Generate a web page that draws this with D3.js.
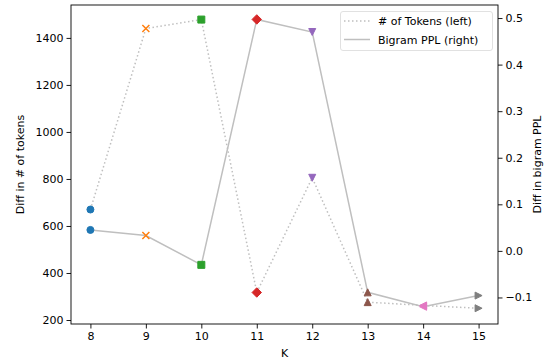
<!DOCTYPE html>
<html><head><meta charset="utf-8">
<script src="https://cdn.jsdelivr.net/npm/d3@7"></script>
<style>body{margin:0;background:#fff}svg{display:block}text{font-family:"DejaVu Sans",sans-serif;fill:#000}</style>
</head><body><svg id="c" width="556" height="363"></svg>
<script>
const kValues = [8, 9, 10, 11, 12, 13, 14, 15];
const tokenDiff = [670, 1440, 1478, 317, 805, 276, 262, 250];
const pplDiff = [0.045, 0.033, -0.030, 0.497, 0.470, -0.089, -0.120, -0.096];
const markerColors = ["#1f77b4","#ff7f0e","#2ca02c","#d62728","#9467bd","#8c564b","#e377c2","#7f7f7f"];
const markerTypes = ["o","x","s","D","v","^","<",">"];
const leftTicks = [200,400,600,800,1000,1200,1400];
const rightTicks = [-0.1,0.0,0.1,0.2,0.3,0.4,0.5];
const legendLabels = ["# of Tokens (left)", "Bigram PPL (right)"];

const svg = d3.select("#c");
const L = 71, R = 498, T = 5, B = 324;
const x = d3.scaleLinear().domain([7.65, 15.35]).range([L, R]);
const yL = d3.scaleLinear().domain([183, 1540]).range([B, T]);
const yR = d3.scaleLinear().domain([-0.157, 0.528]).range([B, T]);
const lineColor = "#bfbfbf";

function markerPath(type, s) {
  const h = s / 2;
  switch (type) {
    case "o": return d3.symbol(d3.symbolCircle, Math.PI * h * h)();
    case "s": return `M${-h},${-h}H${h}V${h}H${-h}Z`;
    case "D": { const d = h * 1.35; return `M0,${-d}L${d},0L0,${d}L${-d},0Z`; }
    case "v": return `M${-h},${-h}L${h},${-h}L0,${h}Z`;
    case "^": return `M${-h},${h}L${h},${h}L0,${-h}Z`;
    case "<": return `M${h},${-h}L${h},${h}L${-h},0Z`;
    case ">": return `M${-h},${-h}L${-h},${h}L${h},0Z`;
    case "x": return `M${-h},${-h}L${h},${h}M${-h},${h}L${h},${-h}`;
  }
}

const g = svg.append("g");
// lines
g.append("path").datum(kValues.map((k,i)=>[k,tokenDiff[i]]))
  .attr("fill","none").attr("stroke",lineColor).attr("stroke-width",1.5)
  .attr("stroke-dasharray","1.5,2.5")
  .attr("d", d3.line().x(d=>x(d[0])).y(d=>yL(d[1])));
g.append("path").datum(kValues.map((k,i)=>[k,pplDiff[i]]))
  .attr("fill","none").attr("stroke",lineColor).attr("stroke-width",1.5)
  .attr("d", d3.line().x(d=>x(d[0])).y(d=>yR(d[1])));

function drawMarkers(vals, sc) {
  kValues.forEach((k,i)=>{
    const t = markerTypes[i], c = markerColors[i];
    g.append("path").attr("d", markerPath(t, 7))
      .attr("transform", `translate(${x(k)},${sc(vals[i])})`)
      .attr("fill", t === "x" ? "none" : c)
      .attr("stroke", c).attr("stroke-width", t === "x" ? 1.5 : 1);
  });
}
drawMarkers(tokenDiff, yL);
drawMarkers(pplDiff, yR);

// axes
const fs = 11;
const ax = svg.append("g").attr("transform",`translate(0,${B})`)
  .call(d3.axisBottom(x).tickValues(kValues).tickFormat(d3.format("d")).tickSizeOuter(0).tickSize(4.5).tickPadding(4));
const al = svg.append("g").attr("transform",`translate(${L},0)`)
  .call(d3.axisLeft(yL).tickValues(leftTicks).tickFormat(d3.format("d")).tickSizeOuter(0).tickSize(4.5).tickPadding(3));
const ar = svg.append("g").attr("transform",`translate(${R},0)`)
  .call(d3.axisRight(yR).tickValues(rightTicks).tickFormat(d=>d3.format(".1f")(d).replace("-","\u2212")).tickSizeOuter(0).tickSize(4.5).tickPadding(3));
[ax,al,ar].forEach(a=>{
  a.selectAll("text").attr("font-size",fs).attr("font-family","DejaVu Sans, sans-serif").attr("fill","#000");
  a.selectAll("line").attr("stroke","#000").attr("stroke-width",0.9);
  a.select(".domain").remove();
});
// spines
svg.append("rect").attr("x",L).attr("y",T).attr("width",R-L).attr("height",B-T)
  .attr("fill","none").attr("stroke","#000").attr("stroke-width",0.9);

// axis labels
svg.append("text").attr("x",(L+R)/2).attr("y",357).attr("text-anchor","middle").attr("font-size",fs).text("K");
svg.append("text").attr("transform",`translate(24,${(T+B)/2}) rotate(-90)`).attr("text-anchor","middle").attr("font-size",fs).text("Diff in # of tokens");
svg.append("text").attr("transform",`translate(541,${(T+B)/2}) rotate(-90)`).attr("text-anchor","middle").attr("font-size",fs).text("Diff in bigram PPL");

// legend
const lg = svg.append("g");
lg.append("rect").attr("x",340.5).attr("y",11.5).attr("width",152).attr("height",39).attr("rx",2.5)
  .attr("fill","#fff").attr("fill-opacity",0.8).attr("stroke","#d9d9d9").attr("stroke-width",0.8);
[0,1].forEach(i=>{
  const yy = 21 + i*18.5;
  lg.append("line").attr("x1",344).attr("x2",370).attr("y1",yy).attr("y2",yy)
    .attr("stroke",lineColor).attr("stroke-width",1.5).attr("stroke-dasharray", i===0 ? "1.5,2.5" : null);
  lg.append("text").attr("x",378).attr("y",yy+4).attr("font-size",fs).text(legendLabels[i]);
});
</script></body></html>
